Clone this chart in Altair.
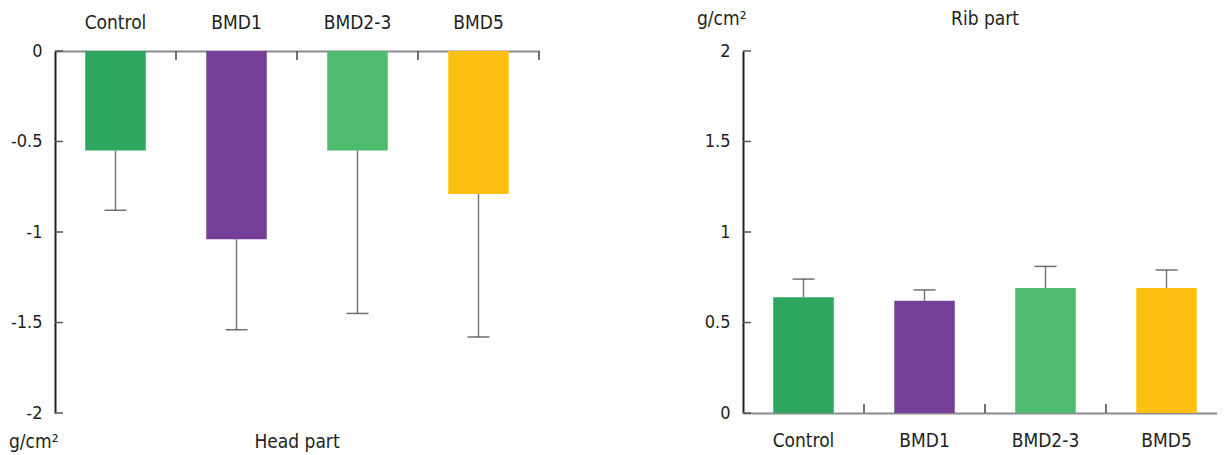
import altair as alt
import pandas as pd

groups = ["Control", "BMD1", "BMD2-3", "BMD5"]
colors = ["#2fa562", "#763f97", "#4fbb6f", "#fcc013"]

head_mean = [-0.55, -1.04, -0.55, -0.79]
head_err = [0.33, 0.50, 0.90, 0.79]
rib_mean = [0.64, 0.62, 0.69, 0.69]
rib_err = [0.10, 0.06, 0.12, 0.10]

head_ticks = [0, -0.5, -1, -1.5, -2]
rib_ticks = [0, 0.5, 1, 1.5, 2]

FONT = "'DejaVu Sans Condensed', 'Liberation Sans Narrow', sans-serif"
TXT = "#231f20"
H = 362
STEP = 121.0
PI = 0.5


def panel(mean, err, sign, ticks, domain, top, title, unit_y, title_y, width, last_tick):
    df = pd.DataFrame({
        "group": groups,
        "mean": mean,
        "end": [m + sign * e for m, e in zip(mean, err)],
    })
    po = (width / STEP - (len(groups) - PI)) / 2
    align = (STEP * PI / 2) / (width - STEP * (len(groups) - PI))
    xaxis = alt.Axis(orient="top" if top else "bottom", title=None, ticks=False,
                     labelAngle=0, domainColor="#8c8c8c", domainWidth=2,
                     labelPadding=19 if top else 18, labelFontSize=19,
                     labelColor=TXT, labelFont=FONT)
    xs = alt.Scale(domain=groups, paddingInner=PI, paddingOuter=po, align=align)
    yaxis = alt.Axis(values=ticks, ticks=False, grid=False, title=None,
                     domainColor=TXT, domainWidth=2, labelPadding=13,
                     labelFontSize=18, labelColor=TXT, labelFont=FONT,
                     labelExpr="'' + datum.value")
    ys = alt.Scale(domain=domain, nice=False)
    base = alt.Chart(df)
    bars = base.mark_bar().encode(
        x=alt.X("group:N", sort=groups, scale=xs, axis=xaxis),
        y=alt.Y("mean:Q", scale=ys, axis=yaxis),
        color=alt.Color("group:N", scale=alt.Scale(domain=groups, range=colors), legend=None),
    )
    stems = base.mark_rule(color="#7a7a7a", strokeWidth=1.5).encode(
        x=alt.X("group:N", sort=groups), y="mean:Q", y2="end:Q")
    caps = base.mark_tick(color="#333333", thickness=1.5, size=22).encode(
        x=alt.X("group:N", sort=groups), y="end:Q")
    y0, y1 = (0, 9) if top else (H, H - 9)
    tick_groups = groups if last_tick else groups[:-1]
    bticks = alt.Chart(pd.DataFrame({"group": tick_groups})).mark_rule(
        color="#444444", strokeWidth=1.5, xOffset=STEP * PI / 2).encode(
        x=alt.X("group:N", sort=groups, bandPosition=1),
        y=alt.value(y0), y2=alt.value(y1))
    yt = alt.Chart(pd.DataFrame({"v": ticks})).mark_rule(
        color="#555555", strokeWidth=1.5).encode(
        y=alt.Y("v:Q"), x=alt.value(0), x2=alt.value(8))
    one = alt.Data(values=[{}])
    ttl = alt.Chart(one).mark_text(text=title, font=FONT, fontSize=19,
                                   color=TXT, align="center", baseline="middle").encode(
        x=alt.value(242), y=alt.value(title_y))
    unit = alt.Chart(one).mark_text(text="g/cm²", font=FONT, fontSize=19,
                                    color=TXT, align="left", baseline="middle").encode(
        x=alt.value(-46), y=alt.value(unit_y))
    return alt.layer(bars, stems, caps, bticks, yt, ttl, unit).properties(width=width, height=H)


left = panel(head_mean, head_err, -1, head_ticks, [-2, 0], True, "Head part", 391, 391, 484, True)
right = panel(rib_mean, rib_err, 1, rib_ticks, [0, 2], False, "Rib part", -32, -32, 474, False)

chart = alt.hconcat(left, right, spacing=204, bounds="flush").configure_view(
    stroke=None).properties(padding={"left": 1, "top": 2, "right": 0, "bottom": 0})

chart.save("out.html", embed_options={"renderer": "svg", "actions": False})
